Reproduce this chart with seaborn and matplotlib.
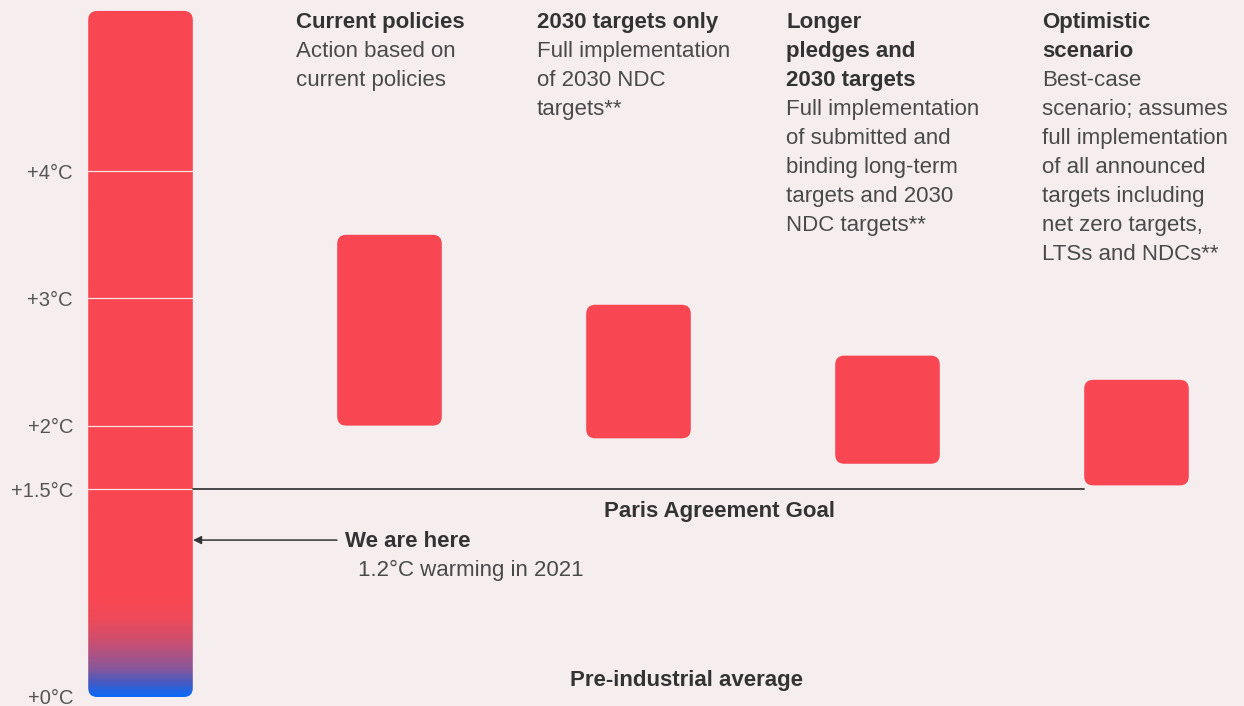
import numpy as np
import pandas as pd
import matplotlib.pyplot as plt
import matplotlib.transforms as mtransforms
from matplotlib.colors import LinearSegmentedColormap
from matplotlib.patches import FancyBboxPatch
import seaborn as sns

# warming ranges per scenario (deg C above pre-industrial)
scenarios = ["Current policies", "2030 targets only",
             "Long-term pledges and 2030 targets", "Optimistic scenario"]
scenario_pos = [1, 2, 3, 4]
low = [2.0, 1.9, 1.7, 1.53]
high = [3.5, 2.95, 2.55, 2.36]

headings = [["Current policies"],
            ["2030 targets only"],
            ["Longer", "pledges and", "2030 targets"],
            ["Optimistic", "scenario"]]
descriptions = [["Action based on", "current policies"],
                ["Full implementation", "of 2030 NDC", "targets**"],
                ["Full implementation", "of submitted and", "binding long-term",
                 "targets and 2030", "NDC targets**"],
                ["Best-case", "scenario; assumes", "full implementation",
                 "of all announced", "targets including", "net zero targets,",
                 "LTSs and NDCs**"]]

tick_vals = [0, 1.5, 2, 3, 4]
tick_labels = ["+0°C", "+1.5°C", "+2°C", "+3°C", "+4°C"]
paris_goal = 1.5
warming_2021 = 1.2
scale_top = 5.26
scale_bottom = -0.134

RED = "#F84752"
BG = "#F5EDEE"
DARK = "#333333"
TEXT = "#4a4a4a"
FS = 16

sns.set_theme(style="white")
plt.rcParams["font.family"] = ["Liberation Sans", "DejaVu Sans"]

W, H = 1244, 706
fig = plt.figure(figsize=(W / 100, H / 100), dpi=100, facecolor=BG)
left_px = 80
ax = fig.add_axes([left_px / W, 0, 1 - left_px / W, 1])
ax.set_facecolor(BG)

df = pd.DataFrame({"pos": scenario_pos, "span": np.subtract(high, low),
                   "scenario": scenarios})
sns.barplot(data=df, x="pos", y="span", bottom=low, native_scale=True,
            width=0.42, color=RED, saturation=1, errorbar=None, ax=ax,
            linewidth=0)

px_x = 249.0
px_y = 127.2
ax.set_xlim((left_px - 140.5) / px_x, (W - 140.5) / px_x)
ax.set_ylim((680 - H) / px_y, 680 / px_y)

aspect = px_x / px_y
rs = 9 / px_x

# round the bar corners
for p in list(ax.patches):
    x, y = p.get_x(), p.get_y()
    w, h = p.get_width(), p.get_height()
    p.remove()
    ax.add_patch(FancyBboxPatch((x, y), w, h,
                                boxstyle=f"round,pad=0,rounding_size={rs}",
                                mutation_aspect=aspect, fc=RED, ec="none",
                                zorder=2))

# gradient temperature scale
half = 0.21
cmap = LinearSegmentedColormap.from_list(
    "temp", [(0.0, "#0B69F5"), (0.05, "#4A5AC0"), (0.1, "#8B5799"),
             (0.2, "#D04E6E"), (0.28, "#F04A59"), (0.35, RED), (1.0, RED)])
grad = np.linspace(scale_bottom, scale_top, 400).reshape(-1, 1)
grad = np.clip((grad - scale_bottom) / 2.2, 0, 1)
im = ax.imshow(grad, cmap=cmap, vmin=0, vmax=1, origin="lower", aspect="auto",
               extent=[-half, half, scale_bottom, scale_top], zorder=1)
clip = FancyBboxPatch((-half, scale_bottom), 2 * half, scale_top - scale_bottom,
                      boxstyle=f"round,pad=0,rounding_size={rs}",
                      mutation_aspect=aspect, fc="none", ec="none",
                      transform=ax.transData)
ax.add_patch(clip)
im.set_clip_path(clip)

for t in tick_vals[1:]:
    ax.plot([-half, half], [t, t], color="white", lw=0.9, alpha=0.85, zorder=3)

# Paris line
ax.plot([half, 4 - half], [paris_goal, paris_goal], color="#3a3a3a", lw=1.3,
        zorder=3)

ax.set_xticks([])
ax.set_yticks(tick_vals)
ax.set_yticklabels(tick_labels)
ax.tick_params(axis="y", length=0, pad=5, labelsize=14.5, labelcolor="#555555")
zero_lab = ax.get_yticklabels()[0]
zero_lab.set_transform(zero_lab.get_transform() +
                       mtransforms.ScaledTranslation(0, -0.16, fig.dpi_scale_trans))
sns.despine(ax=ax, left=True, bottom=True)
ax.set_xlabel("")
ax.set_ylabel("")


def px(x, y):
    return x / W, 1 - y / H


col_x = [296, 537, 786, 1042]
for cx, head, desc in zip(col_x, headings, descriptions):
    k = 0
    for line in head:
        fig.text(*px(cx, 28 + 29 * k), line, fontsize=FS, fontweight="bold",
                 color=DARK, va="baseline", ha="left")
        k += 1
    for line in desc:
        fig.text(*px(cx, 28 + 29 * k), line, fontsize=FS,
                 color=TEXT, va="baseline", ha="left")
        k += 1

fig.text(*px(604, 517), "Paris Agreement Goal", fontsize=FS, fontweight="bold",
         color=DARK, va="baseline")
fig.text(*px(345, 547), "We are here", fontsize=FS, fontweight="bold",
         color=DARK, va="baseline")
fig.text(*px(358, 576), f"{warming_2021}°C warming in 2021", fontsize=FS,
         color=TEXT, va="baseline")
fig.text(*px(570, 686), "Pre-industrial average", fontsize=FS,
         fontweight="bold", color=DARK, va="baseline")

ax.annotate("", xy=(half - 0.01, warming_2021 - 0.1),
            xytext=(0.8, warming_2021 - 0.1),
            arrowprops=dict(arrowstyle="-|>", color=DARK, lw=1.1,
                            mutation_scale=12), zorder=4)

fig.savefig("out.png", dpi=100, facecolor=BG)
